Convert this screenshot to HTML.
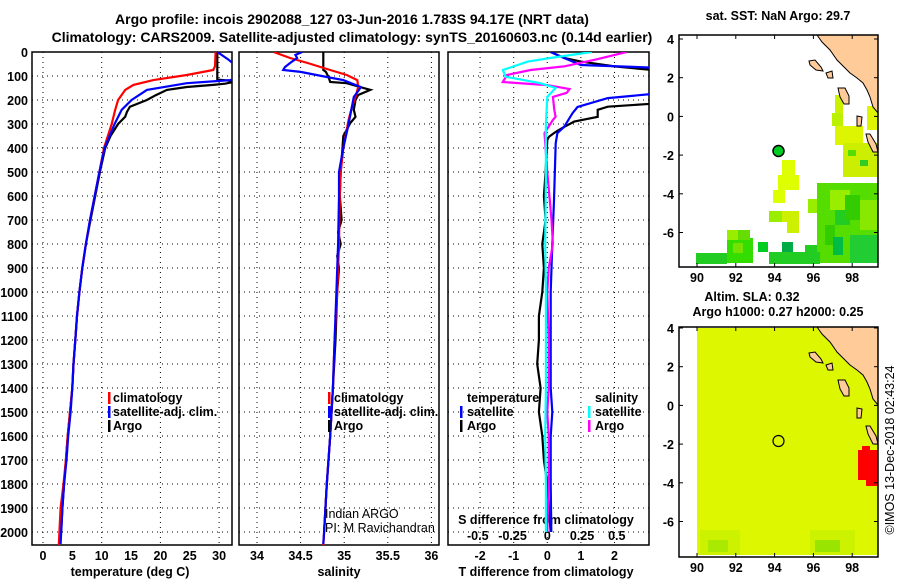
<!DOCTYPE html>
<html><head><meta charset="utf-8">
<style>
html,body{margin:0;padding:0;background:#fff;}
svg{display:block;font-family:"Liberation Sans",sans-serif;}
.b{font-weight:bold;font-size:14px;}
.t{font-weight:bold;font-size:12.5px;}
</style></head>
<body>
<svg id="fig" width="900" height="580" viewBox="0 0 900 580" xmlns="http://www.w3.org/2000/svg">
<defs>
<clipPath id="c1"><rect x="32" y="52" width="200" height="493"/></clipPath>
<clipPath id="c2"><rect x="239" y="52" width="200" height="493"/></clipPath>
<clipPath id="c3"><rect x="448" y="52" width="201" height="493"/></clipPath>
</defs>
<text class="b" x="352" y="24" text-anchor="middle">Argo profile: incois 2902088_127 03-Jun-2016 1.783S 94.17E (NRT data)</text>
<text class="b" x="352" y="42" text-anchor="middle">Climatology: CARS2009. Satellite-adjusted climatology: synTS_20160603.nc (0.14d earlier)</text>
<g id="plots"></g>
<g id="maps"></g>
</svg>
<script>
// ---------- depth axis ----------
const depthTicks = [0,100,200,300,400,500,600,700,800,900,1000,1100,1200,1300,1400,1500,1600,1700,1800,1900,2000];
// ---------- temperature panel data ----------
const tempTicks = [0,5,10,15,20,25,30];
const argoTdepth = [0,115,122,132,137,146,158,180,200,228,250,270,300,350,400,500,600,700,800,900,1000,1100,1200,1300,1400,1500,1600,1700,1800,1900,2000];
const argoT      = [29.7,29.7,33,31,29,24.5,21.1,19.2,17.7,14.8,14.3,14.0,12.8,11.5,10.6,9.7,8.9,8.1,7.3,6.7,6.2,5.8,5.5,5.2,5.0,4.6,4.2,3.9,3.6,3.3,3.1];
const satTdepth  = [0,30,60,110,117,130,158,200,241,300,400,500,600,700,800,900,1000,1100,1200,1300,1400,1500,1600,1700,1800,1900,2000,2050];
const satT       = [29.7,31.5,33,33,31.9,24.5,17.7,15.1,13.4,12.2,10.5,9.6,8.8,8.0,7.3,6.7,6.2,5.8,5.5,5.2,5.0,4.7,4.3,4.0,3.6,3.3,3.1,3.0];
const climTdepth = [0,60,75,96,117,137,158,200,241,300,400,500,600,700,800,900,1000,1100,1200,1300,1400,1500,1600,1700,1800,1900,2000,2055];
const climT      = [29.4,29.3,29.0,24.5,18.8,15.4,14.0,12.8,12.3,11.7,10.4,9.6,8.8,8.0,7.3,6.7,6.2,5.8,5.5,5.2,5.0,4.6,4.2,3.9,3.5,3.0,2.8,2.7];
// ---------- salinity panel data ----------
const salTicks = [34,34.5,35,35.5,36];
const argoSdepth = [0,75,83,104,125,130,146,158,179,200,241,270,296,350,400,500,600,700,750,800,850,900,1000,1200,1400,1600,1800,2000];
const argoS      = [34.76,34.76,34.79,34.82,34.84,35.03,35.18,35.30,35.16,35.13,35.11,35.13,35.07,34.99,34.98,34.96,34.95,34.97,34.93,34.96,34.92,34.94,34.92,34.90,34.87,34.84,34.80,34.77];
const satSdepth  = [0,12,25,46,63,75,83,104,117,146,158,187,300,400,500,600,800,1000,1200,1400,1600,1800,2000,2050];
const satS       = [34.52,34.44,34.46,34.38,34.32,34.30,34.50,34.80,34.99,35.19,35.17,35.11,35.05,34.99,34.94,34.94,34.93,34.91,34.89,34.87,34.84,34.80,34.77,34.76];
const climSdepth = [0,25,46,75,96,117,146,187,229,283,400,500,600,800,1000,1200,1400,1600,1800,2000,2055];
const climS      = [34.19,34.38,34.58,34.84,35.03,35.15,35.16,35.13,35.09,35.05,34.99,34.96,34.95,34.94,34.92,34.89,34.87,34.84,34.80,34.77,34.76];
// ---------- difference panel data ----------
const tdiffTicks = [-2,-1,0,1,2];
const sdiffTicks = [-0.5,-0.25,0,0.25,0.5];
const sdiffTickLabels = ["-0.5","-0.25","0","0.25","0.5"];
const argoDTdepth = [0,25,40,60,80,100,200,212,228,241,270,290,312,333,353,366,500,600,700,800,900,1000,1100,1200,1300,1400,1500,1600,1700,1800,1900,2000];
const argoDT      = [0.1,0.5,1.0,2.0,3.5,6,6,3.5,1.8,1.5,1.5,0.8,0.5,0.25,0.05,0.0,-0.05,-0.1,-0.05,-0.15,-0.1,-0.15,-0.25,-0.25,-0.3,-0.2,-0.25,-0.15,-0.1,0.0,0.05,0.1];
const satDTdepth  = [0,25,54,67,100,170,192,229,255,312,338,380,617,800,1000,1200,1400,1500,1600,1800,2000];
const satDT       = [0.1,0.5,1.0,3.5,6,3.5,1.8,0.9,0.75,0.5,0.3,0.25,0.2,0.15,0.1,0.1,0.1,0.15,0.1,0.1,0.12];
const satDSdepth  = [0,25,40,75,103,130,150,187,300,500,800,1000,1200,1400,1600,1800,2000];
const satDS       = [0.32,0.02,-0.14,-0.32,-0.30,-0.05,0.06,0.0,-0.01,-0.01,-0.015,-0.01,-0.01,-0.01,-0.015,-0.01,-0.01];
const argoDSdepth = [0,30,60,75,96,125,138,154,170,187,241,270,283,338,500,700,800,900,1000,1200,1400,1500,1600,1800,2000];
const argoDS      = [0.57,0.36,0.12,-0.12,-0.29,-0.32,0.0,0.16,0.14,0.04,0.05,0.06,0.04,-0.02,0.0,0.03,0.04,0.01,0.0,0.01,0.01,0.0,0.01,0.01,0.0];

const NS="http://www.w3.org/2000/svg";
function mk(tag, attrs, parent){const e=document.createElementNS(NS,tag);for(const k in attrs)e.setAttribute(k,attrs[k]);parent.appendChild(e);return e;}
const yD = d => 52 + d*0.24;
const xT = t => 43 + t*5.87;
const xS = s => 257 + (s-34)*87.2;
const xDT = v => 547.3 + v*33.6;
const xDS = v => 547.3 + v*139;
const plots=document.getElementById('plots');

function frame(x0,x1,name){
  const r=mk('rect',{x:x0,y:52,width:x1-x0,height:493,fill:'none',stroke:'#000','stroke-width':1.5},plots);
  
  
  depthTicks.forEach(d=>{
    const g=mk('line',{x1:x0,x2:x1,y1:yD(d),y2:yD(d),stroke:'#000','stroke-dasharray':'1 4','stroke-width':1},plots);
    
    
  });
}
function vgrid(xs,name){
  xs.forEach(x=>{
    const g=mk('line',{x1:x,x2:x,y1:52,y2:545,stroke:'#000','stroke-dasharray':'1 4','stroke-width':1},plots);
    
    
  });
}
function series(ds,vs,xf,color,clip,name){
  const p=ds.map((d,i)=>xf(vs[i]).toFixed(1)+','+yD(d).toFixed(1)).join(' ');
  const l=mk('polyline',{points:p,fill:'none',stroke:color,'stroke-width':2.2,'clip-path':'url(#'+clip+')'},plots);
  
  
}
function txt(x,y,s,cls,anchor,name,extra){
  const t=mk('text',Object.assign({x:x,y:y,'text-anchor':anchor||'start'},extra||{}),plots);
  if(cls)t.setAttribute('class',cls);
  t.textContent=s;
  
  
  return t;
}
frame(32,232,'temperature-panel');
frame(239,439,'salinity-panel');
frame(448,649,'difference-panel');
vgrid([0,10,20,30].map(xT),'temperature-gridline');
vgrid(salTicks.map(xS),'salinity-gridline');
vgrid(tdiffTicks.map(xDT),'tdiff-gridline');
depthTicks.forEach(d=>txt(28,yD(d)+5,String(d),'t','end','depth-tick-label'));
tempTicks.forEach(t=>txt(xT(t),560,String(t),'t','middle','temperature-tick-label'));
salTicks.forEach(s=>txt(xS(s),560,String(s),'t','middle','salinity-tick-label'));
tdiffTicks.forEach(t=>txt(xDT(t),560,String(t),'t','middle','tdiff-tick-label'));
sdiffTicks.forEach((s,i)=>txt(xDS(s),540,sdiffTickLabels[i],'t','middle','sdiff-tick-label'));
txt(130,576,'temperature (deg C)','t','middle','temperature-axis-title');
txt(339,576,'salinity','t','middle','salinity-axis-title');
txt(546,576,'T difference from climatology','t','middle','tdiff-axis-title');
txt(546,524,'S difference from climatology','t','middle','sdiff-axis-title');
// series (draw order: Argo, climatology, satellite)
series(argoTdepth,argoT,xT,'#000000','c1','argo-temperature-line');
series(climTdepth,climT,xT,'#ff0000','c1','climatology-temperature-line');
series(satTdepth,satT,xT,'#0000ff','c1','satellite-temperature-line');
series(argoSdepth,argoS,xS,'#000000','c2','argo-salinity-line');
series(climSdepth,climS,xS,'#ff0000','c2','climatology-salinity-line');
series(satSdepth,satS,xS,'#0000ff','c2','satellite-salinity-line');
series(argoDTdepth,argoDT,xDT,'#000000','c3','argo-tdiff-line');
series(satDTdepth,satDT,xDT,'#0000ff','c3','satellite-tdiff-line');
series(argoDSdepth,argoDS,xDS,'#ff00ff','c3','argo-sdiff-line');
series(satDSdepth,satDS,xDS,'#00ffff','c3','satellite-sdiff-line');
function legend(mx,tx,y,color,label,name){
  const m=mk('rect',{x:mx,y:y-10,width:2.5,height:12,fill:color},plots);
  
  
  txt(tx,y,label,'t','start',name);
}
legend(108,113,402,'#ff0000','climatology','legend-climatology');
legend(108,113,416,'#0000ff','satellite-adj. clim.','legend-satellite');
legend(108,113,430,'#000000','Argo','legend-argo');
legend(328,334,402,'#ff0000','climatology','legend-sal-climatology');
legend(328,334,416,'#0000ff','satellite-adj. clim.','legend-sal-satellite');
legend(328,334,430,'#000000','Argo','legend-sal-argo');
txt(467,402,'temperature','t','start','legend-temperature-heading');
legend(460,467,416,'#0000ff','satellite','legend-tdiff-satellite');
legend(460,467,430,'#000000','Argo','legend-tdiff-argo');
txt(595,402,'salinity','t','start','legend-salinity-heading');
legend(588,595,416,'#00ffff','satellite','legend-sdiff-satellite');
legend(588,595,430,'#ff00ff','Argo','legend-sdiff-argo');
txt(325,518,'Indian ARGO','', 'start','credit-indian-argo',{'font-size':'12.5px'});
txt(325,532,'PI: M Ravichandran','', 'start','credit-pi',{'font-size':'12.5px'});

// ---------- maps ----------
const maps=document.getElementById('maps');
const lonTicks=[90,92,94,96,98];
const latTicks=[4,2,0,-2,-4,-6];
const mx = lon => 697 + (lon-90)*19.4;
function mapFrame(top,bottom,latY0,name){
  const my = lat => latY0 + (4-lat)*19.35;
  const r=mk('rect',{x:679,y:top,width:199,height:bottom-top,fill:'none',stroke:'#000','stroke-width':1.5},maps);
  
  
  latTicks.forEach(l=>{
    const t=mk('text',{x:674,y:my(l)+5,'text-anchor':'end',class:'t'},maps);t.textContent=String(l);
    
    
    mk('line',{x1:679,x2:683,y1:my(l),y2:my(l),stroke:'#000'},maps);
    mk('line',{x1:874,x2:878,y1:my(l),y2:my(l),stroke:'#000'},maps);
  });
  lonTicks.forEach(l=>{
    const t=mk('text',{x:mx(l),y:bottom+15,'text-anchor':'middle',class:'t'},maps);t.textContent=String(l);
    
    
    mk('line',{x1:mx(l),x2:mx(l),y1:top,y2:top+4,stroke:'#000'},maps);
    mk('line',{x1:mx(l),x2:mx(l),y1:bottom-4,y2:bottom,stroke:'#000'},maps);
  });
}
function rects(list,dy){
  list.forEach(c=>{
    const r=mk('rect',{x:c[0],y:c[1]+dy,width:c[2],height:c[3],fill:c[4]},maps);
    
    
  });
}
function land(dy){
  const p=mk('polygon',{points:[[817,35],[822,42],[830,50],[837,60],[843,66],[850,73],[857,78],[863,83],[867,90],[870,97],[873,107],[878,113],[878,35]].map(q=>q[0]+','+(q[1]+dy)).join(' '),fill:'#ffcc99',stroke:'#000','stroke-width':1},maps);
  
  
  const isl=[
    [[809,61],[815,60],[821,67],[823,71],[816,70],[810,65]],
    [[838,88],[845,88],[849,96],[849,104],[844,104],[840,97]],
    [[866,134],[870,134],[876,144],[878,152],[873,152],[868,142]],
    [[857,116],[862,117],[861,126],[857,126]],
    [[826,73],[832,71],[833,78],[828,78]]
  ];
  isl.forEach(pts=>{
    const e=mk('polygon',{points:pts.map(q=>q[0]+','+(q[1]+dy)).join(' '),fill:'#ffcc99',stroke:'#000','stroke-width':1},maps);
    
    
  });
}
const sstCells=[
 [835,95,8,20,'#ccf000'],[832,113,11,13,'#bbf000'],[835,126,28,19,'#ddf500'],[867,106,11,24,'#ddf500'],
 [843,143,35,34,'#ccee00'],[848,150,8,6,'#55dd00'],[860,160,8,6,'#33cc22'],
 [782,160,13,15,'#ddff00'],[778,175,21,15,'#ddff00'],[773,190,12,13,'#ddff00'],
 [769,211,13,11,'#99ee00'],[782,211,17,11,'#ccf000'],[787,222,12,11,'#ccf000'],[808,199,15,14,'#99ee00'],
 [817,183,61,80,'#55dd00'],[830,190,20,20,'#99ee00'],[835,210,15,15,'#22cc22'],[845,195,15,25,'#33cc00'],
 [860,200,18,30,'#88e800'],[825,225,10,20,'#33cc00'],[850,235,28,28,'#22cc33'],[833,237,10,18,'#00bb44'],
 [727,238,26,25,'#33dd00'],[738,230,12,10,'#66dd00'],[727,230,11,10,'#99ee00'],[733,243,10,10,'#77e000'],
 [696,253,31,11,'#22cc22'],[758,242,10,10,'#00cc22'],[782,242,11,10,'#00aa44'],[769,252,51,12,'#22cc22'],[805,245,12,10,'#22cc22']
];
rects(sstCells,0);
land(0);
mapFrame(35,267,39,'sst-map');
{const c=mk('circle',{cx:778.5,cy:151,r:5.5,fill:'#00cc22',stroke:'#000','stroke-width':1.5},maps);
 
 }
{const t=mk('text',{x:778,y:20,'text-anchor':'middle',class:'t'},maps);t.textContent='sat. SST: NaN Argo: 29.7';
 
 }
const slaCells=[
 [697,328,181,227,'#ddf700'],[700,530,40,25,'#ccf200'],[708,540,20,12,'#aaea00'],[810,530,45,25,'#ccf200'],[815,540,25,12,'#99e400'],
 [858,450,20,30,'#ff0000'],[862,446,8,6,'#ff0000'],[866,480,12,6,'#ff0000'],[870,328,8,8,'#aaee00']
];
rects(slaCells,0);
land(292);
mapFrame(327,557,328,'sla-map');
{const c=mk('circle',{cx:778.5,cy:441,r:5.5,fill:'none',stroke:'#000','stroke-width':1.2},maps);
 
 }
{const t=mk('text',{x:752,y:301,'text-anchor':'middle',class:'t'},maps);t.textContent='Altim. SLA: 0.32';
 
 }
{const t=mk('text',{x:778,y:316,'text-anchor':'middle',class:'t'},maps);t.textContent='Argo h1000: 0.27 h2000: 0.25';
 
 }
{const t=mk('text',{x:0,y:0,'text-anchor':'middle','font-size':'12.5px',transform:'translate(894,450) rotate(-90)'},maps);t.textContent='©IMOS 13-Dec-2018 02:43:24';
 
 }
</script>
</body></html>
